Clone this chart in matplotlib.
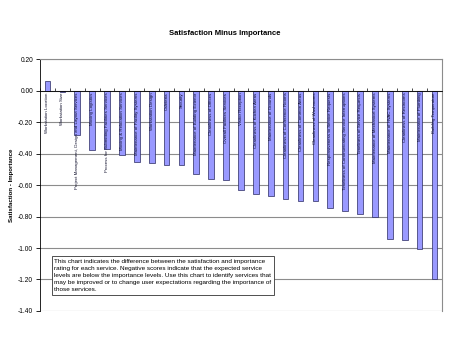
import matplotlib
matplotlib.use("Agg")
import matplotlib.pyplot as plt
import numpy as np

plt.rcParams["font.family"] = ["Liberation Sans", "DejaVu Sans"]

# services and their satisfaction-minus-importance gap
services = [
    "Workstation Location",
    "Workstation Size",
    "Project Management, Design and Layout Services",
    "Moving Logistics",
    "Process for Submitting Facilities Services",
    "Moving & Relocation Services",
    "Maintenance of Facility Systems",
    "Workstation Design",
    "Cafeteria",
    "Security",
    "Maintenance of Building Exterior",
    "Cleanliness of Offices",
    "Overall Facilities Services",
    "Visitor Reception",
    "Cleanliness of Kitchen Areas",
    "Maintenance of Grounds",
    "Cleanliness of Conference Rooms",
    "Cleanliness of Common Areas",
    "Cleanliness of Washrooms",
    "Responsiveness to Service Requests",
    "Timeliness of Communicating Service Interruptions",
    "Timeliness of Service Requests",
    "Maintenance of Mechanical Systems",
    "Maintenance of HVAC Systems",
    "Cleanliness of Restrooms",
    "Maintenance of Plumbing",
    "Building Temperature",
]
gap = [0.06, -0.01, -0.28, -0.375, -0.37, -0.41, -0.455, -0.46, -0.47,
       -0.475, -0.527, -0.56, -0.57, -0.63, -0.655, -0.67, -0.69, -0.70,
       -0.70, -0.745, -0.766, -0.785, -0.80, -0.945, -0.95, -1.006, -1.198]

yticks = [-1.4, -1.2, -1.0, -0.8, -0.6, -0.4, -0.2, 0.0, 0.2]

note = ("This chart indicates the difference between the satisfaction and importance\n"
        "rating for each service. Negative scores indicate that the expected service\n"
        "levels are below the importance levels. Use this chart to identify services that\n"
        "may be improved or to change user expectations regarding the importance of\n"
        "those services.")

fig = plt.figure(figsize=(4.5, 3.38), dpi=100)
ax = fig.add_axes([0.089, 0.080, 0.893, 0.745])

x = np.arange(len(services))
ax.bar(x, gap, width=0.38, color="#9999FF", edgecolor="#2a2a60", linewidth=0.5, zorder=3)

# labels sit at the zero base and run downward inside each bar
for xi, name in zip(x, services):
    ax.text(xi, -0.012, name, rotation=90, ha="center", va="top",
            fontsize=3.2, color="#0d0d2a", zorder=4,
            family=["Liberation Sans Narrow", "Liberation Sans", "DejaVu Sans"])

ax.set_xlim(-0.5, len(services) - 0.5)
ax.set_ylim(-1.4, 0.2)
ax.set_yticks(yticks)
ax.set_yticklabels(["0.00" if v == 0 else f"{v:.2f}" for v in yticks], fontsize=4.8)
ax.tick_params(axis="y", length=3, width=0.6, pad=2)
ax.grid(axis="y", color="#8c8c8c", linewidth=0.8, zorder=0)

# category axis drawn through zero with ticks between services
ax.spines["bottom"].set_position(("data", 0))
ax.spines["bottom"].set_linewidth(0.6)
ax.spines["bottom"].set_zorder(5)
ax.set_xticks(np.arange(-0.5, len(services), 1.0))
ax.set_xticklabels([])
ax.tick_params(axis="x", direction="in", length=2, width=0.5, bottom=True)
ax.spines["left"].set_linewidth(0.6)
for side in ("top", "right"):
    ax.spines[side].set_color("#8c8c8c")
    ax.spines[side].set_linewidth(0.8)

ax.set_ylabel("Satisfaction - Importance", fontsize=4.4, fontweight="bold", labelpad=3)
fig.text(0.50, 0.900, "Satisfaction Minus Importance", ha="center", va="center",
         fontsize=5.5, fontweight="bold")

ax.text(0.47, -1.072, note, ha="left", va="top", fontsize=4.6, linespacing=1.5,
        bbox=dict(boxstyle="square,pad=0.45", facecolor="white",
                  edgecolor="#333333", linewidth=0.6), zorder=6)

fig.savefig("out.png", dpi=100)
